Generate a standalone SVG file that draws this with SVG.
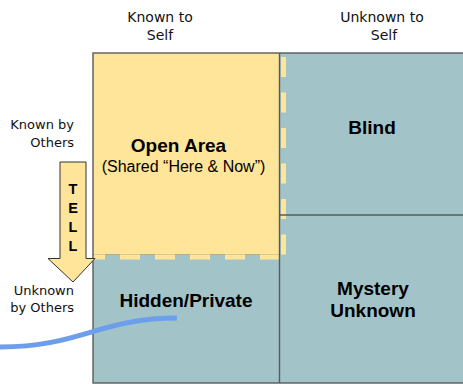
<svg xmlns="http://www.w3.org/2000/svg" width="463" height="384" viewBox="0 0 463 384">
<style>
.hdr{font-family:"DejaVu Sans",Verdana,sans-serif;font-size:14px;fill:#111;text-anchor:middle}
.side{font-family:"DejaVu Sans",Verdana,sans-serif;font-size:13px;fill:#111;text-anchor:end}
.big{font-family:"Liberation Sans",Arial,sans-serif;font-weight:bold;font-size:19px;fill:#000;text-anchor:middle}
.sub{font-family:"Liberation Sans",Arial,sans-serif;font-size:16px;fill:#000;text-anchor:middle}
.tell{font-family:"Liberation Sans",Arial,sans-serif;font-weight:bold;font-size:14.5px;fill:#000;text-anchor:middle}
.grid{stroke:#5a5a5a;stroke-width:1.4;fill:none}
.dash{stroke:#ffe599;stroke-width:5;fill:none}
</style>
<rect width="463" height="384" fill="#fff"/>
<g id="labels">
<text class="hdr" x="160" y="22">Known to</text>
<text class="hdr" x="160" y="40">Self</text>
<text class="hdr" x="382" y="22">Unknown to</text>
<text class="hdr" x="384" y="40">Self</text>
<text class="side" x="74" y="129">Known by</text>
<text class="side" x="74" y="147">Others</text>
<text class="side" x="74" y="295">Unknown</text>
<text class="side" x="74" y="312">by Others</text>
</g>
<g id="blind">
<rect x="93" y="53" width="370" height="330" fill="#a2c4c9"/>
<text class="big" x="372" y="134">Blind</text>
</g>
<g id="hidden">
<text class="big" x="186" y="307">Hidden/Private</text>
</g>
<g id="mystery">
<text class="big" x="373" y="295">Mystery</text>
<text class="big" x="373" y="317">Unknown</text>
</g>
<g id="open">
<rect x="93" y="53" width="186" height="201" fill="#ffe599"/>
<line x1="93" y1="254.5" x2="279" y2="254.5" stroke="#b8a878" stroke-width="0.8"/>
<line class="dash" x1="283.5" y1="57" x2="283.5" y2="260" stroke-dasharray="20 15.5"/>
<line class="dash" x1="280" y1="257" x2="93" y2="257" stroke-dasharray="20 15"/>
<text class="big" x="178.5" y="152" font-size="20">Open Area</text>
<text class="sub" x="183.5" y="172">(Shared “Here &amp; Now”)</text>
</g>
<g id="grid">
<rect class="grid" x="93" y="53" width="372" height="330"/>
<line class="grid" x1="279.5" y1="53" x2="279.5" y2="383"/>
<line class="grid" x1="279.5" y1="215" x2="463" y2="215"/>
</g>
<g id="tell">
<path d="M60,162 H86 V258.5 H95 L73,282 L48,258.5 H60 Z" fill="#ffe599" stroke="#333" stroke-width="1"/>
<text class="tell" x="73" y="194">T</text>
<text class="tell" x="73" y="213">E</text>
<text class="tell" x="73" y="232">L</text>
<text class="tell" x="73" y="251">L</text>
</g>
<g id="connectors">
<path d="M0,347 C80,347 100,318 177,318" fill="none" stroke="#6d9eeb" stroke-width="5"/>
</g>
</svg>
